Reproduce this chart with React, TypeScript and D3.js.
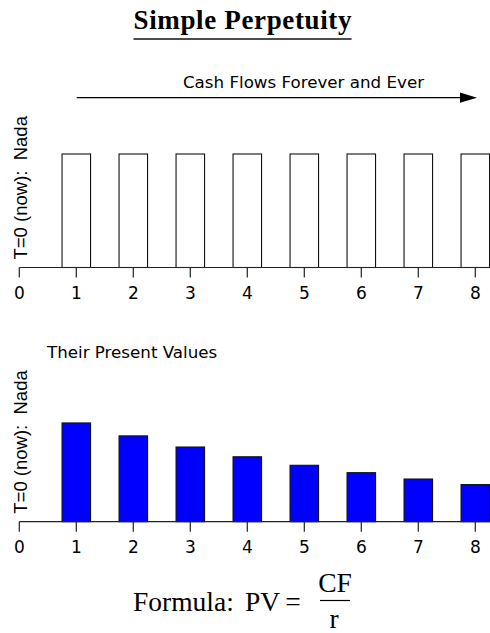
import React, { useEffect, useRef } from 'react';
import * as d3 from 'd3';

const periods = [1, 2, 3, 4, 5, 6, 7, 8];
const tickValues = [0, 1, 2, 3, 4, 5, 6, 7, 8];
const cashFlows = [100, 100, 100, 100, 100, 100, 100, 100];
const presentValues = [87.0, 75.6, 65.8, 57.2, 49.7, 43.2, 37.6, 32.7];

const titleText = 'Simple Perpetuity';
const arrowText = 'Cash Flows Forever and Ever';
const pvText = 'Their Present Values';
const yLabel = 'T=0 (now):  Nada';

const width = 490;
const height = 633;
const sansFont = '"DejaVu Sans", sans-serif';
const labelFont = '"Liberation Sans", Arial, sans-serif';
const serifFont = '"Liberation Serif", "Times New Roman", serif';

function App() {
  const ref = useRef<SVGSVGElement>(null);

  useEffect(() => {
    if (!ref.current) return;
    const svg = d3.select(ref.current);
    svg.selectAll('*').remove();

    const x = d3.scaleLinear().domain([0, 8]).range([19.3, 475.3]);
    const barW = x(0.5) - x(0);

    // title
    svg.append('text')
      .attr('x', 242.5)
      .attr('y', 28.5)
      .attr('text-anchor', 'middle')
      .style('font-family', serifFont)
      .style('font-weight', 'bold')
      .style('font-size', '27px')
      .attr('textLength', 218)
      .attr('lengthAdjust', 'spacing')
      .text(titleText);
    svg.append('line')
      .attr('x1', 133.5).attr('x2', 351.5)
      .attr('y1', 39).attr('y2', 39)
      .style('stroke', '#111')
      .style('stroke-width', 1.6);

    // arrow
    svg.append('text')
      .attr('x', 303.5)
      .attr('y', 88)
      .attr('text-anchor', 'middle')
      .style('font-family', sansFont)
      .style('font-size', '16.7px')
      .text(arrowText);
    svg.append('line')
      .attr('x1', 76.7).attr('x2', 462)
      .attr('y1', 97.7).attr('y2', 97.7)
      .style('stroke', '#000')
      .style('stroke-width', 1.2);
    svg.append('path')
      .attr('d', 'M460,92.6 L477,97.7 L460,102.8 Z')
      .style('fill', '#000');

    const drawPanel = (values: number[], base: number, fill: string) => {
      const y = d3.scaleLinear().domain([0, 100]).range([base, base - 113.5]);
      const g = svg.append('g');

      g.selectAll('rect')
        .data(values)
        .enter()
        .append('rect')
        .attr('x', (d, i) => x(periods[i]) - barW / 2)
        .attr('y', d => y(d))
        .attr('width', barW)
        .attr('height', d => y(0) - y(d))
        .style('fill', fill)
        .style('stroke', '#111')
        .style('stroke-width', 1.1);

      g.append('line')
        .attr('x1', x(0)).attr('x2', width)
        .attr('y1', base).attr('y2', base)
        .style('stroke', '#222')
        .style('stroke-width', 1.2);

      const ticks = g.selectAll('.tick')
        .data(tickValues)
        .enter()
        .append('g')
        .attr('class', 'tick')
        .attr('transform', d => `translate(${x(d)},${base})`);
      ticks.append('line')
        .attr('y1', 0).attr('y2', 10)
        .style('stroke', '#222')
        .style('stroke-width', 1.2);
      ticks.append('text')
        .attr('y', 31)
        .attr('text-anchor', 'middle')
        .style('font-family', sansFont)
        .style('font-size', '17px')
        .text(d => d);

      g.append('text')
        .attr('transform', `translate(26.5,${base - 8}) rotate(-90)`)
        .style('font-family', labelFont)
        .style('font-size', '18.5px')
        .style('white-space', 'pre')
        .text(yLabel);
    };

    drawPanel(cashFlows, 267.5, '#fff');

    svg.append('text')
      .attr('x', 47)
      .attr('y', 358)
      .style('font-family', sansFont)
      .style('font-size', '16.7px')
      .text(pvText);

    drawPanel(presentValues, 521.7, '#0000ff');

    // formula
    const f = svg.append('g').style('font-family', serifFont).style('font-size', '27.5px');
    f.append('text').attr('x', 133).attr('y', 611).text('Formula:');
    f.append('text').attr('x', 245).attr('y', 611).text('PV');
    f.append('text').attr('x', 293).attr('y', 611).attr('text-anchor', 'middle').text('=');
    f.append('text').attr('x', 335).attr('y', 592).attr('text-anchor', 'middle').text('CF');
    f.append('line')
      .attr('x1', 320).attr('x2', 350)
      .attr('y1', 600.5).attr('y2', 600.5)
      .style('stroke', '#000')
      .style('stroke-width', 1.2);
    f.append('text').attr('x', 334).attr('y', 628).attr('text-anchor', 'middle').text('r');
  }, []);

  return (
    <div style={{ position: 'absolute', left: 0, top: 0 }}>
      <svg ref={ref} width={width} height={height} style={{ display: 'block', background: '#fff' }}></svg>
    </div>
  );
}

export default App;
